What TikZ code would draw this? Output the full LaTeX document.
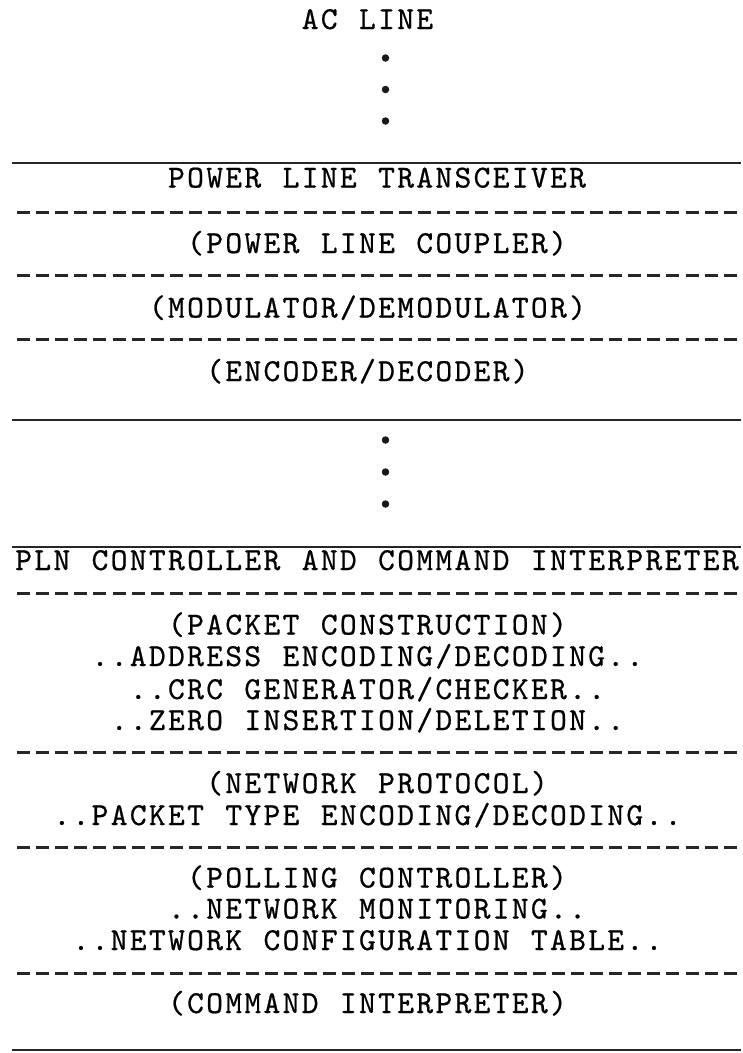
\documentclass[tikz,border=0pt]{standalone}
\usepackage{fontspec}
\newfontfamily\twbase{lmmono10-regular}[Extension=.otf,FakeBold=0.6]
\ExplSyntaxOn
\NewDocumentCommand\twtext{m}
  {\str_map_inline:nn {#1} {\hbox_to_wd:nn {19.1pt} {\hss ##1\hss}}}
\ExplSyntaxOff
\begin{document}
\begin{tikzpicture}[x=1pt,y=-1pt,
  lbl/.style={anchor=base,inner sep=0pt,font=\twbase\fontsize{32}{34}\selectfont,text=black},
  solidrule/.style={line width=2.6pt,black!85},
  dashrule/.style={line width=3pt,dash pattern=on 13pt off 6.1pt,black!85},
  dotmark/.style={circle,fill=black!90,draw=none,inner sep=0pt,minimum size=7.5pt}]
\useasboundingbox[fill=white] (0,0) rectangle (743,1053);
% AC line and dots
\node[lbl] (acline) at (367.45,29) {\twtext{AC LINE}};
\node[dotmark] (d1) at (385.5,58) {};
\node[dotmark] (d2) at (385.5,89.5) {};
\node[dotmark] (d3) at (385.5,121) {};
% transceiver block
\draw[solidrule] (12,163) -- (741,163);
\node[lbl] (trx) at (377,187.5) {\twtext{POWER LINE TRANSCEIVER}};
\draw[dashrule] (17,212) -- (741,212);
\node[lbl] (coupler) at (377,253) {\twtext{(POWER LINE COUPLER)}};
\draw[dashrule] (17,275) -- (741,275);
\node[lbl] (modem) at (367.45,317.5) {\twtext{(MODULATOR/DEMODULATOR)}};
\draw[dashrule] (17,339) -- (741,339);
\node[lbl] (codec) at (367.45,381) {\twtext{(ENCODER/DECODER)}};
\draw[solidrule] (12,420) -- (741,420);
% middle dots
\node[dotmark] (m1) at (385.5,440) {};
\node[dotmark] (m2) at (385.5,472) {};
\node[dotmark] (m3) at (385.5,504) {};
% controller block
\draw[solidrule] (12,547) -- (741,547);
\node[lbl] (pln) at (377,570) {\twtext{PLN CONTROLLER AND COMMAND INTERPRETER}};
\draw[dashrule] (17,593) -- (741,593);
\node[lbl] (pkt) at (367.45,634.5) {\twtext{(PACKET CONSTRUCTION)}};
\node[lbl] (addr) at (367.45,666) {\twtext{..ADDRESS ENCODING/DECODING..}};
\node[lbl] (crc) at (367.45,699) {\twtext{..CRC GENERATOR/CHECKER..}};
\node[lbl] (zero) at (367.45,730) {\twtext{..ZERO INSERTION/DELETION..}};
\draw[dashrule] (17,752) -- (741,752);
\node[lbl] (netp) at (377,793) {\twtext{(NETWORK PROTOCOL)}};
\node[lbl] (ptype) at (367.45,825) {\twtext{..PACKET TYPE ENCODING/DECODING..}};
\draw[dashrule] (17,847) -- (741,847);
\node[lbl] (poll) at (377,887.5) {\twtext{(POLLING CONTROLLER)}};
\node[lbl] (mon) at (377,918.5) {\twtext{..NETWORK MONITORING..}};
\node[lbl] (cfg) at (367.45,950) {\twtext{..NETWORK CONFIGURATION TABLE..}};
\draw[dashrule] (17,973) -- (741,973);
\node[lbl] (cmd) at (367.45,1013) {\twtext{(COMMAND INTERPRETER)}};
\draw[solidrule] (12,1050) -- (741,1050);
\end{tikzpicture}
\end{document}
